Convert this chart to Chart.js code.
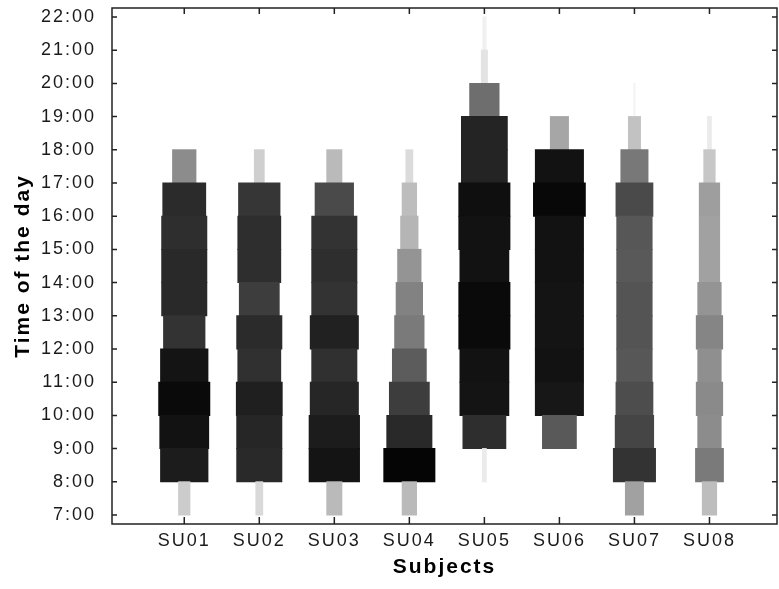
<!DOCTYPE html>
<html>
<head>
<meta charset="utf-8">
<script src="https://cdn.jsdelivr.net/npm/chart.js@4.4.0/dist/chart.umd.min.js"></script>
<style>
  body { margin: 0; background: #fff; }
  canvas { display: block; }
</style>
</head>
<body>
<canvas id="timeChart" width="779" height="589"></canvas>
<script>
// subjects on the x axis, hours of the day on the y axis
const subjects = ["SU01", "SU02", "SU03", "SU04", "SU05", "SU06", "SU07", "SU08"];
const hours = [7, 8, 9, 10, 11, 12, 13, 14, 15, 16, 17, 18, 19, 20, 21, 22];
const hourLabels = ["7:00", "8:00", "9:00", "10:00", "11:00", "12:00", "13:00", "14:00",
  "15:00", "16:00", "17:00", "18:00", "19:00", "20:00", "21:00", "22:00"];

// first hour bin of every subject
const firstHour = [7, 7, 7, 7, 8, 9, 7, 7];

// spread of each hourly bin (% of the slot), from the first hour upwards
const su01Spread = [15, 63, 65, 68, 63, 55, 60, 60, 60, 57, 31];
const su02Spread = [9, 60, 60, 61, 57, 60, 53, 57, 57, 55, 13];
const su03Spread = [20, 67, 67, 64, 60, 64, 60, 60, 60, 51, 20];
const su04Spread = [19, 68, 60, 53, 45, 39, 35, 31, 23, 19, 9];
const su05Spread = [5, 57, 65, 65, 68, 68, 65, 68, 68, 61, 61, 39, 8, 4];
const su06Spread = [45, 64, 64, 64, 64, 64, 64, 69, 64, 24];
const su07Spread = [24, 56, 51, 49, 47, 47, 47, 47, 47, 49, 36, 16, 2];
const su08Spread = [19, 37, 31, 35, 31, 35, 31, 27, 27, 27, 15, 5];

// darkness of each hourly bin (0 = white, 100 = black)
const su01Level = [20, 89, 93, 96, 92, 80, 84, 84, 82, 83, 45];
const su02Level = [15, 84, 85, 88, 81, 83, 76, 82, 82, 79, 19];
const su03Level = [27, 92, 89, 85, 81, 87, 80, 82, 80, 71, 27];
const su04Level = [27, 98, 84, 76, 64, 52, 49, 42, 29, 26, 14];
const su05Level = [8, 82, 92, 93, 96, 96, 93, 93, 94, 86, 86, 57, 11, 6];
const su06Level = [65, 91, 93, 92, 92, 93, 93, 97, 93, 35];
const su07Level = [37, 80, 73, 70, 66, 67, 67, 65, 66, 71, 53, 24, 4];
const su08Level = [26, 52, 45, 46, 44, 48, 42, 37, 37, 38, 22, 8];

const spreads = [su01Spread, su02Spread, su03Spread, su04Spread, su05Spread, su06Spread, su07Spread, su08Spread];
const levels = [su01Level, su02Level, su03Level, su04Level, su05Level, su06Level, su07Level, su08Level];

function grey(level) {
  const g = Math.round(255 - level * 2.55);
  return "rgb(" + g + "," + g + "," + g + ")";
}

const datasets = [];
subjects.forEach(function(name, i) {
  spreads[i].forEach(function(w, k) {
    const h = firstHour[i] + k;
    datasets.push({
      label: name + " " + h,
      data: [{ x: i + 1, y: [h, h + 1] }],
      backgroundColor: grey(levels[i][k]),
      borderWidth: 0,
      inflateAmount: 0.5,
      barPercentage: w / 100,
      categoryPercentage: 1,
      grouped: false
    });
  });
});

// box round the plot with inward tick marks on all four sides
const framePlugin = {
  id: "frame",
  beforeDraw(chart) {
    chart.ctx.letterSpacing = "2px";
  },
  afterDraw(chart) {
    const ctx = chart.ctx;
    const a = chart.chartArea;
    const x = chart.scales.x;
    const y = chart.scales.y;
    ctx.save();
    ctx.strokeStyle = "#222";
    ctx.lineWidth = 1.5;
    ctx.strokeRect(a.left, a.top, a.right - a.left, a.bottom - a.top);
    ctx.beginPath();
    y.ticks.forEach(function(t, i) {
      const py = y.getPixelForTick(i);
      ctx.moveTo(a.left, py); ctx.lineTo(a.left + 5, py);
      ctx.moveTo(a.right, py); ctx.lineTo(a.right - 5, py);
    });
    x.ticks.forEach(function(t, i) {
      const px = x.getPixelForTick(i);
      ctx.moveTo(px, a.bottom); ctx.lineTo(px, a.bottom - 7);
      ctx.moveTo(px, a.top); ctx.lineTo(px, a.top + 6);
    });
    ctx.stroke();
    ctx.restore();
  }
};

Chart.defaults.font.family = '"Liberation Sans", Arial, sans-serif';
Chart.defaults.color = "#1a1a1a";

new Chart(document.getElementById("timeChart"), {
  type: "bar",
  data: { datasets: datasets },
  options: {
    responsive: false,
    animation: false,
    layout: { padding: { top: 8, right: 2, left: 0, bottom: 0 } },
    plugins: {
      legend: { display: false },
      tooltip: { enabled: false }
    },
    scales: {
      x: {
        type: "linear",
        offset: false,
        min: 0.037,
        max: 8.9,
        grid: { display: false },
        border: { display: false },
        afterBuildTicks: function(s) {
          s.ticks = subjects.map(function(n, i) { return { value: i + 1 }; });
        },
        afterFit: function(s) {
          s.height = 65;
          s.paddingLeft = 0;
          s.paddingRight = 0;
        },
        ticks: {
          font: { size: 18 },
          padding: -2,
          maxRotation: 0,
          autoSkip: false,
          callback: function(v, i) { return subjects[i]; }
        },
        title: {
          display: true,
          text: "Subjects",
          color: "#000",
          font: { size: 21, weight: "bold" },
          padding: { top: 0, bottom: 9 }
        }
      },
      y: {
        type: "linear",
        min: 6.729,
        max: 22.271,
        grid: { display: false },
        border: { display: false },
        afterBuildTicks: function(s) {
          s.ticks = hours.map(function(h) { return { value: h }; });
        },
        afterFit: function(s) {
          s.width = 112;
          s.paddingTop = 0;
          s.paddingBottom = 0;
        },
        ticks: {
          font: { size: 18 },
          padding: 8,
          autoSkip: false,
          callback: function(v, i) { return hourLabels[i]; }
        },
        title: {
          display: true,
          text: "Time of the day",
          color: "#000",
          font: { size: 21, weight: "bold" },
          padding: { top: 11, bottom: 0 }
        }
      }
    }
  },
  plugins: [framePlugin]
});
</script>
</body>
</html>
